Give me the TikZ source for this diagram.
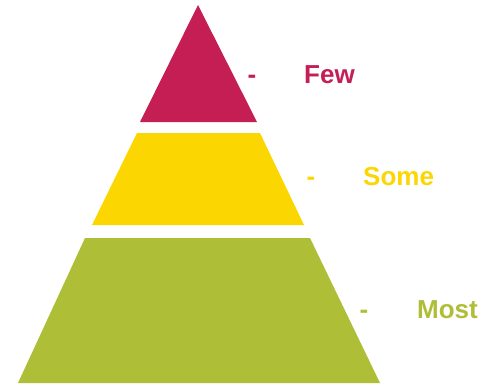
\documentclass[tikz,border=0pt]{standalone}
\usepackage{fontspec}
\setmainfont{Liberation Sans}
\definecolor{fewred}{RGB}{196,30,85}
\definecolor{someyellow}{RGB}{251,214,0}
\definecolor{mostgreen}{RGB}{175,190,55}
\begin{document}
\begin{tikzpicture}[x=1pt, y=-1pt, every node/.style={font=\fontsize{26}{30}\selectfont\bfseries, inner sep=0pt, anchor=base west}]
\useasboundingbox (0,0) rectangle (490,386);
% Few
\fill[fewred] (198,5) -- (257,122) -- (140,122) -- cycle;
\node[text=fewred, anchor=base] (dashfew) at (252,83) {-};
\node[text=fewred] (few) at (304,83) {Few};
% Some
\fill[someyellow] (137,133) -- (260,133) -- (304,225) -- (92,225) -- cycle;
\node[text=someyellow, anchor=base] (dashsome) at (311,185) {-};
\node[text=someyellow] (some) at (363,185) {Some};
% Most
\fill[mostgreen] (85,238) -- (310,238) -- (380,383) -- (18,383) -- cycle;
\node[text=mostgreen, anchor=base] (dashmost) at (364,318) {-};
\node[text=mostgreen] (most) at (417,318) {Most};
\end{tikzpicture}
\end{document}
